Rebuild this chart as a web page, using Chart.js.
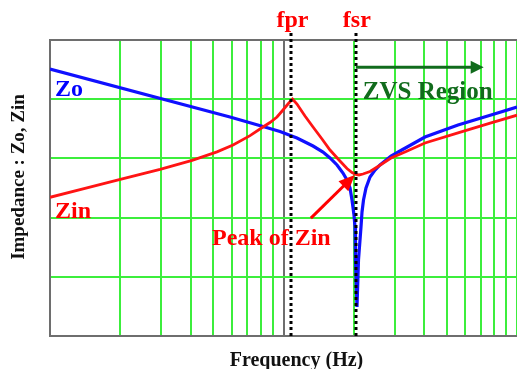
<!DOCTYPE html>
<html><head><meta charset="utf-8">
<script src="https://cdn.jsdelivr.net/npm/chart.js@4/dist/chart.umd.min.js"></script>
<style>html,body{margin:0;padding:0;background:#fff}#wrap{width:517px;height:369px;position:relative}</style>
</head><body><div id="wrap"><canvas id="c"></canvas></div>
<script>
// ---- data (frequency on log axis, impedance in relative units) ----
const zoFreq   = [1, 5.90, 8.17, 9.66, 11.42, 13.38, 14.76, 15.82, 16.95, 17.98, 18.70, 19.27, 19.65, 20.04, 20.24, 20.34, 20.64, 20.95, 21.47, 21.69, 22.01, 22.56, 23.47, 24.65, 25.90, 28.87, 31.55, 40.36, 55.88, 77.4, 100];
const zoValues = [4.51, 3.70, 3.54, 3.455, 3.345, 3.209, 3.108, 3.007, 2.889, 2.753, 2.635, 2.50, 2.297, 2.044, 1.841, 1.284, 0.49, 1.284, 1.841, 2.095, 2.297, 2.50, 2.686, 2.804, 2.889, 3.041, 3.125, 3.361, 3.564, 3.733, 3.868];
const zinFreq   = [1, 1.412, 2.0, 2.96, 4.06, 5.19, 6.08, 7.19, 8.17, 8.75, 9.38, 9.95, 10.45, 10.93, 11.42, 12.36, 13.38, 14.62, 15.82, 17.29, 18.70, 19.65, 20.44, 21.05, 21.90, 23.47, 25.39, 28.87, 33.14, 40.36, 55.88, 77.4, 100];
const zinValues = [2.343, 2.495, 2.647, 2.816, 2.968, 3.11, 3.226, 3.385, 3.530, 3.606, 3.699, 3.818, 3.919, 4.003, 3.919, 3.716, 3.530, 3.328, 3.142, 2.973, 2.829, 2.762, 2.728, 2.720, 2.736, 2.779, 2.863, 3.007, 3.108, 3.26, 3.43, 3.60, 3.73];
const markerFreqs  = [10.82, 20.4];
const markerLabels = ['fpr', 'fsr'];
const xGridValues = [1,2,3,4,5,6,7,8,9,10,20,30,40,50,60,70,80,90,100];
const yGridValues = [0,1,2,3,4,5];
const seriesNames = ['Zo', 'Zin'];

const GREEN = '#3cee3c', GRAY = '#6e6e6e';
const SERIF = '"Liberation Serif", "Times New Roman", serif';

const annot = {
  id: 'annot',
  afterDatasetsDraw(chart) {
    const {ctx, chartArea: a, scales: {x, y}} = chart;
    ctx.save();
    // dotted resonance lines
    ctx.strokeStyle = '#000'; ctx.lineWidth = 3; ctx.setLineDash([3, 3]);
    markerFreqs.forEach(f => {
      const px = Math.round(x.getPixelForValue(f));
      ctx.beginPath(); ctx.moveTo(px, a.top - 7); ctx.lineTo(px, a.bottom); ctx.stroke();
    });
    ctx.setLineDash([]);
    // marker labels
    ctx.font = 'bold 24px ' + SERIF; ctx.fillStyle = '#ff0000';
    ctx.textAlign = 'center'; ctx.textBaseline = 'alphabetic';
    markerFreqs.forEach((f, i) => ctx.fillText(markerLabels[i], x.getPixelForValue(f) + 1, a.top - 13));
    // ZVS region arrow
    const zx0 = x.getPixelForValue(markerFreqs[1]), zx1 = x.getPixelForValue(72), zy = y.getPixelForValue(4.54);
    ctx.strokeStyle = '#116b1c'; ctx.fillStyle = '#116b1c'; ctx.lineWidth = 3;
    ctx.beginPath(); ctx.moveTo(zx0, zy); ctx.lineTo(zx1 - 10, zy); ctx.stroke();
    ctx.beginPath(); ctx.moveTo(zx1, zy); ctx.lineTo(zx1 - 13, zy - 6.5); ctx.lineTo(zx1 - 13, zy + 6.5); ctx.closePath(); ctx.fill();
    ctx.textAlign = 'left';
    ctx.font = 'bold 25px ' + SERIF;
    ctx.fillText('ZVS Region', zx0 + 7, y.getPixelForValue(4.0));
    ctx.font = 'bold 24px ' + SERIF;
    // peak of Zin arrow
    const tx = x.getPixelForValue(markerFreqs[1]) - 1, ty = y.getPixelForValue(2.72);
    const sx = x.getPixelForValue(13.1), sy = y.getPixelForValue(1.99);
    const ang = Math.atan2(ty - sy, tx - sx);
    ctx.strokeStyle = '#ff0000'; ctx.fillStyle = '#ff0000'; ctx.lineWidth = 3;
    ctx.beginPath(); ctx.moveTo(sx, sy); ctx.lineTo(tx - 10 * Math.cos(ang), ty - 10 * Math.sin(ang)); ctx.stroke();
    ctx.beginPath(); ctx.moveTo(tx, ty);
    ctx.lineTo(tx - 16 * Math.cos(ang) + 7 * Math.sin(ang), ty - 16 * Math.sin(ang) - 7 * Math.cos(ang));
    ctx.lineTo(tx - 16 * Math.cos(ang) - 7 * Math.sin(ang), ty - 16 * Math.sin(ang) + 7 * Math.cos(ang));
    ctx.closePath(); ctx.fill();
    ctx.fillText('Peak of Zin', 212, 245);
    // series labels
    ctx.fillStyle = '#0000ff'; ctx.fillText(seriesNames[0], a.left + 5, 96);
    ctx.fillStyle = '#ff0000'; ctx.fillText(seriesNames[1], a.left + 5, 218);
    // axis titles
    ctx.fillStyle = '#111';
    ctx.font = 'bold 20px ' + SERIF; ctx.textAlign = 'center';
    ctx.fillText('Frequency (Hz)', 296.5, 366);
    ctx.font = 'bold 19px ' + SERIF;
    ctx.translate(24, 177); ctx.rotate(-Math.PI / 2);
    ctx.fillText('Impedance : Zo, Zin', 0, 0);
    ctx.restore();
  }
};

new Chart(document.getElementById('c'), {
  type: 'line',
  data: {
    datasets: [
      { label: seriesNames[1], data: zinFreq.map((f, i) => ({x: f, y: zinValues[i]})),
        borderColor: '#ff1414', borderWidth: 2.8, pointRadius: 0, tension: 0, fill: false },
      { label: seriesNames[0], data: zoFreq.map((f, i) => ({x: f, y: zoValues[i]})),
        borderColor: '#1010ff', borderWidth: 3.2, pointRadius: 0, tension: 0, fill: false }
    ]
  },
  options: {
    responsive: true, maintainAspectRatio: false, animation: false,
    layout: { padding: { left: 50, top: 40, right: 0, bottom: 33 } },
    plugins: { legend: { display: false }, tooltip: { enabled: false } },
    scales: {
      x: {
        type: 'logarithmic', min: 1, max: 100,
        afterBuildTicks: s => { s.ticks = xGridValues.map(v => ({value: v})); },
        afterFit: s => { s.height = 0; },
        ticks: { display: false },
        grid: { drawTicks: false, lineWidth: 2,
          color: c => (c.tick && (c.tick.value === 10 || c.tick.value === 1)) ? GRAY : GREEN },
        border: { color: GRAY, width: 2 }
      },
      y: {
        type: 'linear', min: 0, max: 5,
        afterBuildTicks: s => { s.ticks = yGridValues.map(v => ({value: v})); },
        afterFit: s => { s.width = 0; },
        ticks: { display: false },
        grid: { drawTicks: false, lineWidth: 2,
          color: c => (c.tick && (c.tick.value === 5 || c.tick.value === 0)) ? GRAY : GREEN },
        border: { color: GRAY, width: 2 }
      }
    }
  },
  plugins: [annot]
});
</script></body></html>
